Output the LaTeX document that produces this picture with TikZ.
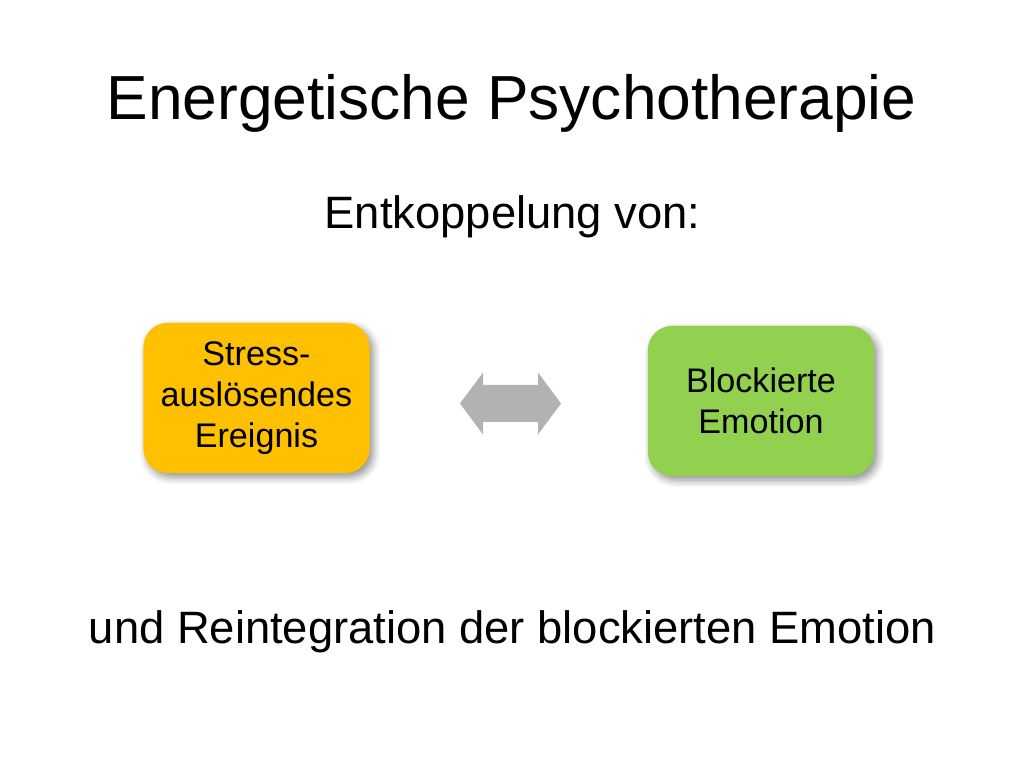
\documentclass[tikz,border=0pt]{standalone}
\usepackage{fontspec}
\setmainfont{Liberation Sans}
\usetikzlibrary{shadows.blur}

\definecolor{orangebox}{HTML}{FFC000}
\definecolor{greenbox}{HTML}{92D050}
\definecolor{arrowgray}{HTML}{B2B2B2}

\tikzset{
  box/.style={rounded corners=0.24cm, minimum width=2.26cm, minimum height=1.5cm,
    align=center, inner sep=0pt, font=\fontsize{9.7pt}{11.7pt}\selectfont,
    blur shadow={shadow xshift=0.035cm, shadow yshift=-0.04cm, shadow opacity=45, shadow blur steps=6}},
  line/.style={anchor=base, inner sep=0pt}
}

\begin{document}
\begin{tikzpicture}[x=0.01cm, y=-0.01cm]
        \useasboundingbox (0,0) rectangle (1024,768);
        \node[line, font=\fontsize{17.7pt}{20pt}\selectfont] (T) at (511.5,120) {Energetische Psychotherapie};
        \node[line, font=\fontsize{12.9pt}{15pt}\selectfont] (S) at (512.5,229) {Entkoppelung von:};
        \node[box, fill=orangebox] (L) at (256.5,398) {Stress-\\auslösendes\\Ereignis};
        \node[box, fill=greenbox] (R) at (761,401) {Blockierte\\Emotion};
        \coordinate (D) at (510.5,403.5);
        \fill[arrowgray, shift={(D)}] (-50.5,0) -- (-27.5,-31) -- (-27.5,-18.5) -- (27.5,-18.5) -- (27.5,-31)
            -- (50.5,0) -- (27.5,31) -- (27.5,18.5) -- (-27.5,18.5) -- (-27.5,31) -- cycle;
        \node[line, font=\fontsize{12.9pt}{15pt}\selectfont] (U) at (512.5,644) {und Reintegration der blockierten Emotion};
    \end{tikzpicture}
\end{document}
